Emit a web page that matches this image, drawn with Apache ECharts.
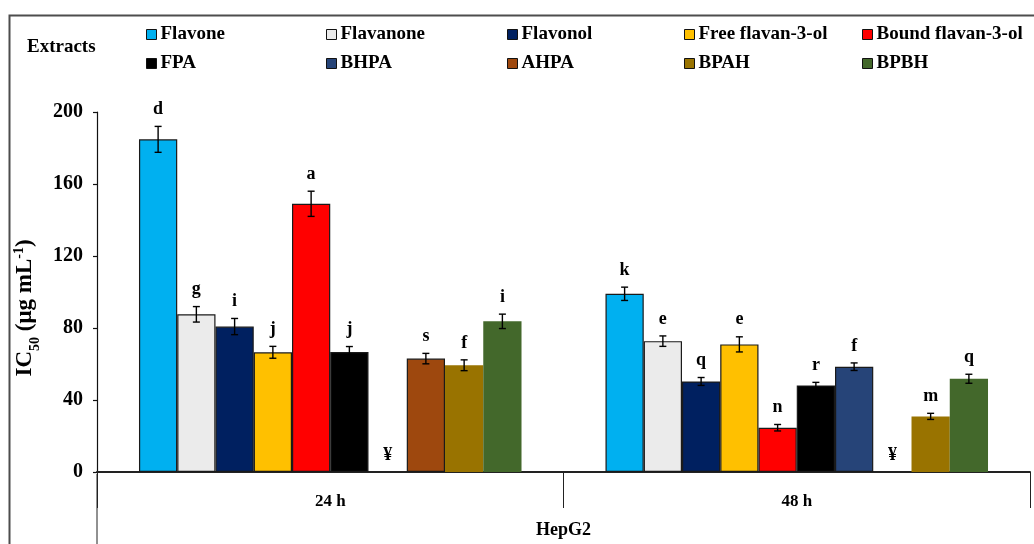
<!DOCTYPE html>
<html>
<head>
<meta charset="utf-8">
<script src="https://cdn.jsdelivr.net/npm/echarts@6/dist/echarts.min.js"></script>
<style>html,body{margin:0;padding:0;background:#fff}#c{width:1034px;height:544px}</style>
</head>
<body>
<div id="c"></div>
<script>
const categories = ['24 h', '48 h'];
const seriesNames = ['Flavone', 'Flavanone', 'Flavonol', 'Free flavan-3-ol', 'Bound flavan-3-ol', 'FPA', 'BHPA', 'AHPA', 'BPAH', 'BPBH'];
const colors = ['#00b0f0', '#ebebeb', '#002060', '#ffc000', '#ff0000', '#000000', '#264478', '#9e480e', '#997300', '#43682b'];
const ic50_24h = [184.8, 87.6, 80.8, 66.5, 149.0, 66.7, null, 63.0, 59.3, 83.7];
const err_24h = [7.2, 4.3, 4.5, 3.3, 7.0, 3.0, 0, 2.9, 3.0, 4.0];
const letters_24h = ['d', 'g', 'i', 'j', 'a', 'j', '¥', 's', 'f', 'i'];
const ic50_48h = [99.0, 72.7, 50.3, 70.9, 24.6, 48.1, 58.5, null, 30.9, 51.8];
const err_48h = [3.7, 2.9, 2.2, 4.2, 1.8, 1.7, 2.1, 0, 1.7, 2.5];
const letters_48h = ['k', 'e', 'q', 'e', 'n', 'r', 'f', '¥', 'm', 'q'];
const yTicks = { min: 0, max: 200, interval: 40 };

const FONT = '"Liberation Serif", "Times New Roman", serif';
const N = seriesNames.length;
const CAT_GAP = 0.18;

const valuesByTime = [ic50_24h, ic50_48h];
const errByTime = [err_24h, err_48h];
const lettersByTime = [letters_24h, letters_48h];

const barSeries = seriesNames.map((name, s) => ({
  name: name,
  type: 'bar',
  barGap: '0%',
  barCategoryGap: (CAT_GAP * 100) + '%',
  data: valuesByTime.map(arr => arr[s] === null ? '-' : arr[s]),
  itemStyle: {
    color: colors[s],
    borderColor: (s >= 8) ? 'rgba(0,0,0,0)' : '#1a1a1a',
    borderWidth: (s >= 8) ? 0 : 1.2
  },
  emphasis: { disabled: true }
}));

const errData = [];
const errLetters = [];
const errMissing = [];
valuesByTime.forEach((arr, c) => {
  arr.forEach((v, s) => {
    errData.push([c, v === null ? 0 : v, s, errByTime[c][s]]);
    errLetters.push(lettersByTime[c][s]);
    errMissing.push(v === null);
  });
});

const errSeries = {
  type: 'custom',
  name: 'err',
  z: 10,
  silent: true,
  data: errData,
  encode: { x: 0, y: 1 },
  renderItem: function (params, api) {
    const c = api.value(0), v = api.value(1), s = api.value(2), e = api.value(3);
    const band = api.size([1, 0])[0];
    const bw = band * (1 - CAT_GAP) / N;
    const cx = api.coord([c, 0])[0] - band * (1 - CAT_GAP) / 2 + (s + 0.5) * bw;
    const children = [];
    let topY;
    if (errMissing[params.dataIndex]) {
      topY = api.coord([c, 0])[1];
    } else {
      const yHi = api.coord([c, v + e])[1];
      const yLo = api.coord([c, v - e])[1];
      const st = { stroke: '#000', lineWidth: 1.4 };
      children.push({ type: 'line', shape: { x1: cx, y1: yHi, x2: cx, y2: yLo }, style: st });
      children.push({ type: 'line', shape: { x1: cx - 3.5, y1: yHi, x2: cx + 3.5, y2: yHi }, style: st });
      children.push({ type: 'line', shape: { x1: cx - 3.5, y1: yLo, x2: cx + 3.5, y2: yLo }, style: st });
      topY = yHi;
    }
    children.push({
      type: 'text',
      style: {
        x: cx, y: topY - 8, text: errLetters[params.dataIndex],
        align: 'center', verticalAlign: 'bottom',
        fontSize: 18, fontWeight: 'bold', fontFamily: FONT, fill: '#000'
      }
    });
    return { type: 'group', children: children };
  }
};

const legendCols = [146, 326, 507, 684, 862];
const legends = legendCols.map((x, i) => ({
  orient: 'vertical',
  left: x,
  top: 24,
  padding: 0,
  itemGap: 8,
  itemWidth: 10,
  itemHeight: 10,
  icon: 'rect',
  selectedMode: false,
  itemStyle: { borderColor: '#111', borderWidth: 1 },
  textStyle: { fontFamily: FONT, fontWeight: 'bold', fontSize: 19, color: '#000', lineHeight: 21, padding: [0, 0, 0, -1] },
  data: [seriesNames[i], seriesNames[i + 5]]
}));

const chart = echarts.init(document.getElementById('c'), null, { renderer: 'canvas' });
chart.setOption({
  animation: false,
  backgroundColor: '#fff',
  legend: legends,
  grid: { left: 97, right: 4, top: 112, bottom: 70, containLabel: false },
  xAxis: {
    type: 'category',
    data: categories,
    name: 'HepG2',
    nameLocation: 'middle',
    nameGap: 49,
    nameTextStyle: { fontFamily: FONT, fontWeight: 'bold', fontSize: 18, color: '#000' },
    axisLine: { lineStyle: { color: '#222', width: 2 } },
    axisTick: { show: true, length: 36, interval: 0, lineStyle: { color: '#222', width: 1 } },
    axisLabel: { margin: 21, fontFamily: FONT, fontWeight: 'bold', fontSize: 17, color: '#000' },
    splitLine: { show: false }
  },
  yAxis: {
    type: 'value',
    min: yTicks.min,
    max: yTicks.max,
    interval: yTicks.interval,
    name: '{b|IC}{sub|50}{b| (μg mL}{sup|-1}{b|)}',
    nameLocation: 'middle',
    nameRotate: 90,
    nameGap: 58,
    nameTextStyle: {
      padding: [0, 32, 0, 0],
      rich: {
        b: { fontFamily: FONT, fontWeight: 'bold', fontSize: 23, color: '#000', lineHeight: 26 },
        sub: { fontFamily: FONT, fontWeight: 'bold', fontSize: 14, color: '#000', verticalAlign: 'bottom', lineHeight: 26, padding: [0, 0, -4, 0] },
        sup: { fontFamily: FONT, fontWeight: 'bold', fontSize: 14, color: '#000', verticalAlign: 'top', lineHeight: 26 }
      }
    },
    axisLine: { show: true, lineStyle: { color: '#111', width: 1.2 } },
    axisTick: { show: true, length: 4, lineStyle: { color: '#111', width: 1.2 } },
    axisLabel: { margin: 14, fontFamily: FONT, fontWeight: 'bold', fontSize: 20, color: '#000' },
    splitLine: { show: false }
  },
  graphic: [
    { type: 'rect', silent: true, shape: { x: 9.5, y: 15.5, width: 1200, height: 700 }, style: { fill: 'none', stroke: '#4d4d4d', lineWidth: 2 } },
    { type: 'text', silent: true, style: { x: 27, y: 47, text: 'Extracts', fontFamily: FONT, fontWeight: 'bold', fontSize: 19, fill: '#000', verticalAlign: 'middle' } },
    { type: 'line', silent: true, shape: { x1: 97, y1: 474, x2: 97, y2: 544 }, style: { stroke: '#222', lineWidth: 1 } }
  ],
  series: barSeries.concat([errSeries])
});
</script>
</body>
</html>
